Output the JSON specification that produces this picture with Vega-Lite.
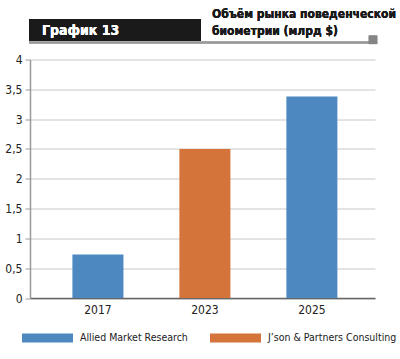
{
  "$schema": "https://vega.github.io/schema/vega-lite/v6.json",
  "width": 345,
  "height": 238.5,
  "autosize": {"type": "none"},
  "padding": {"left": 30, "top": 59.5, "right": 25, "bottom": 61},
  "background": "white",
  "config": {
    "view": {"stroke": null},
    "font": "DejaVu Sans Condensed, Roboto Condensed, Roboto",
    "locale": {"number": {"decimal": ",", "thousands": " ", "grouping": [3], "currency": ["", "$"]}}
  },
  "data": {"values": [
    {"year": "2017", "value": 0.73, "source": "Allied Market Research"},
    {"year": "2023", "value": 2.5, "source": "J’son & Partners Consulting"},
    {"year": "2025", "value": 3.38, "source": "Allied Market Research"}
  ]},
  "layer": [
    {
      "mark": {"type": "bar", "stroke": null},
      "encoding": {
        "x": {"field": "year", "type": "ordinal", "scale": {"paddingInner": 0.523, "paddingOuter": 0.374, "align": 0.53},
          "axis": {"title": null, "labelAngle": 0, "ticks": false, "domainColor": "#666", "domainWidth": 1.5, "labelFontSize": 12, "labelColor": "#222", "labelPadding": 6}},
        "y": {"field": "value", "type": "quantitative", "scale": {"domain": [0, 4]},
          "axis": {"title": null, "values": [0, 0.5, 1, 1.5, 2, 2.5, 3, 3.5, 4], "format": ",.1~f", "domainColor": "#999", "domainWidth": 1.5, "tickColor": "#999", "tickSize": 5, "gridColor": "#c8c8c8", "labelFontSize": 12, "labelColor": "#222", "labelPadding": 3}},
        "color": {"field": "source", "type": "nominal",
          "scale": {"domain": ["Allied Market Research", "J’son & Partners Consulting"], "range": ["#4d89c0", "#d5743a"]},
          "legend": {"title": null, "orient": "none", "legendX": -8, "legendY": 253, "direction": "horizontal", "columns": 2,
            "symbolType": "M-1,-0.18H1V0.18H-1Z", "symbolSize": 2601, "symbolStrokeWidth": 0, "symbolOpacity": 1,
            "labelFontSize": 10.5, "labelColor": "#222", "labelOffset": 7, "columnPadding": 22, "labelLimit": 300}}
      }
    },
    {
      "layer": [
        {
          "mark": {"type": "rect", "color": "#1a1a1a"},
          "encoding": {
            "x": {"datum": -1, "type": "quantitative", "scale": {"domain": [0, 345]}, "axis": null},
            "x2": {"datum": 171},
            "y": {"datum": 4.68, "type": "quantitative", "scale": {"domain": [0, 4]}, "axis": null},
            "y2": {"datum": 4.315}
          }
        },
        {
          "mark": {"type": "rule", "color": "#9a9a9a", "strokeWidth": 2},
          "encoding": {
            "x": {"datum": -1, "type": "quantitative", "scale": {"domain": [0, 345]}, "axis": null},
            "x2": {"datum": 340},
            "y": {"datum": 4.285, "type": "quantitative", "scale": {"domain": [0, 4]}, "axis": null}
          }
        },
        {
          "mark": {"type": "square", "color": "#858585", "opacity": 1, "size": 72},
          "encoding": {
            "x": {"datum": 343, "type": "quantitative", "scale": {"domain": [0, 345]}, "axis": null},
            "y": {"datum": 4.33, "type": "quantitative", "scale": {"domain": [0, 4]}, "axis": null}
          }
        },
        {
          "mark": {"type": "text", "text": "График 13", "color": "white", "fontWeight": "bold", "fontSize": 14, "align": "left", "baseline": "middle"},
          "encoding": {
            "x": {"datum": 12, "type": "quantitative", "scale": {"domain": [0, 345]}, "axis": null},
            "y": {"datum": 4.47, "type": "quantitative", "scale": {"domain": [0, 4]}, "axis": null}
          }
        },
        {
          "mark": {"type": "text", "text": ["Объём рынка поведенческой", "биометрии (млрд $)"], "color": "#1a1a1a", "fontWeight": "bold", "fontSize": 12, "lineHeight": 17, "align": "left", "baseline": "top"},
          "encoding": {
            "x": {"datum": 182, "type": "quantitative", "scale": {"domain": [0, 345]}, "axis": null},
            "y": {"datum": 4.84, "type": "quantitative", "scale": {"domain": [0, 4]}, "axis": null}
          }
        }
      ]
    }
  ],
  "resolve": {"scale": {"x": "independent", "y": "independent"}}
}
